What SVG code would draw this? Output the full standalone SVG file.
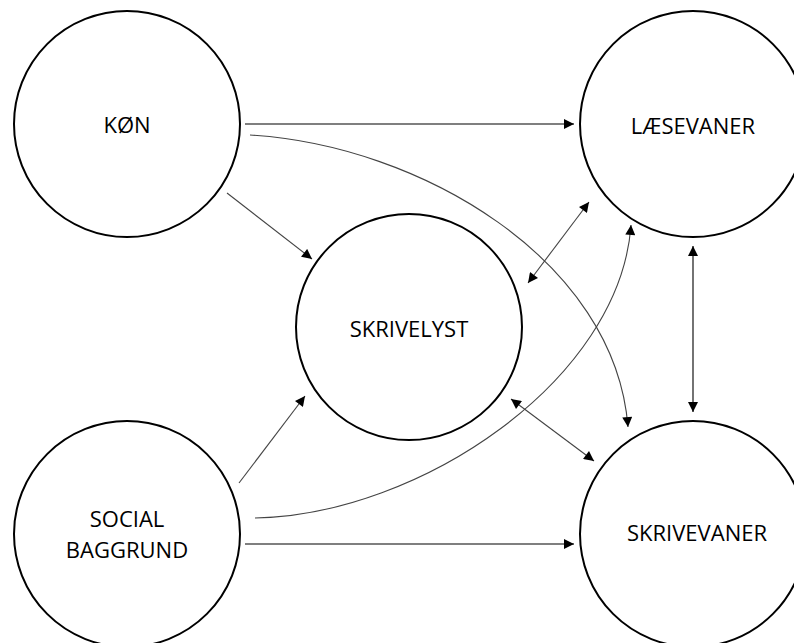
<svg xmlns="http://www.w3.org/2000/svg" width="794" height="643" viewBox="0 0 794 643">
<style>
.node{fill:#fff;stroke:#000;stroke-width:2}
.lbl{font-family:"Open Sans","Liberation Sans",sans-serif;font-size:22px;fill:#000;text-anchor:middle}
.c{fill:none;stroke:#000;stroke-width:1.1}
.g{fill:none;stroke:#444;stroke-width:1.1}
</style>
<defs>
<marker id="ah" viewBox="0 0 10 10" refX="10" refY="5" markerWidth="11" markerHeight="10" markerUnits="userSpaceOnUse" orient="auto-start-reverse">
<path d="M0,0 L10,5 L0,10 z" fill="#000"/>
</marker>
</defs>
<rect width="794" height="643" fill="#fff"/>
<g id="kon"><circle class="node" cx="127" cy="124" r="113"/><text class="lbl" x="127" y="133">KØN</text></g>
<g id="laesevaner"><circle class="node" cx="693" cy="124" r="113"/><text class="lbl" x="693" y="134">LÆSEVANER</text></g>
<g id="skrivelyst"><circle class="node" cx="409" cy="327" r="113"/><text class="lbl" x="409" y="337">SKRIVELYST</text></g>
<g id="social"><circle class="node" cx="127" cy="534" r="113"/><text class="lbl" x="127" y="527">SOCIAL</text><text class="lbl" x="127" y="558">BAGGRUND</text></g>
<g id="skrivevaner"><circle class="node" cx="693" cy="534" r="113"/><text class="lbl" x="697" y="541">SKRIVEVANER</text></g>
<g id="connectors">
<path class="c" d="M245,124 L574,124" marker-end="url(#ah)"/>
<path class="g" d="M250,135 C420,145 615,260 628,427" marker-end="url(#ah)"/>
<path class="g" d="M227,193 L312,259" marker-end="url(#ah)"/>
<path class="g" d="M528,283 L589,202" marker-start="url(#ah)" marker-end="url(#ah)"/>
<path class="g" d="M255,518 C420,515 620,380 631,225" marker-end="url(#ah)"/>
<path class="g" d="M511,399 L594,461" marker-start="url(#ah)" marker-end="url(#ah)"/>
<path class="c" d="M693,246 L693,412" marker-start="url(#ah)" marker-end="url(#ah)"/>
<path class="g" d="M239,483 L305,396" marker-end="url(#ah)"/>
<path class="c" d="M245,544 L574,544" marker-end="url(#ah)"/>
</g>
</svg>
